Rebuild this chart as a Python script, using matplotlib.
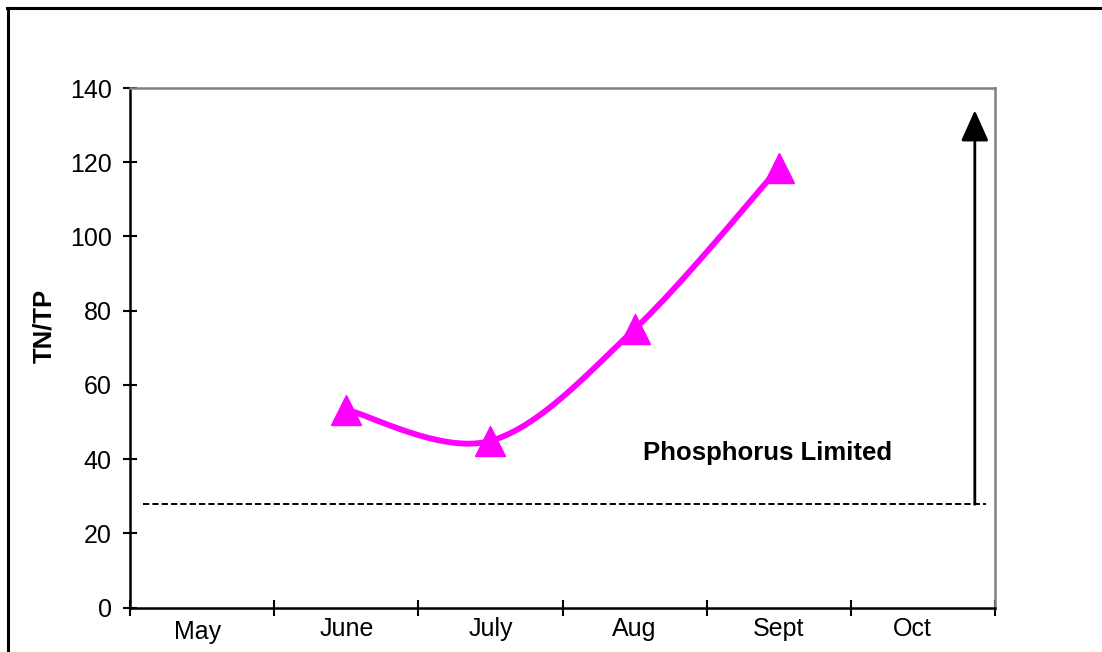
import matplotlib
matplotlib.use("Agg")
import matplotlib.pyplot as plt
import matplotlib.transforms as mtransforms
from matplotlib.lines import Line2D
import numpy as np

plt.rcParams["font.family"] = ["Liberation Sans", "DejaVu Sans"]

months = ["May", "June", "July", "Aug", "Sept", "Oct"]
sample_months = ["June", "July", "Aug", "Sept"]
tn_tp = [53.3, 44.9, 75.0, 118.4]
threshold = 27.8
arrow_top = 134
label_text = "Phosphorus Limited"

magenta = "#FF00FF"


def smooth(xs, ys, n=40):
    # Bezier smoothing similar to spreadsheet "smoothed line"
    pts = np.column_stack([xs, ys]).astype(float)
    out = []
    for i in range(len(pts) - 1):
        p0 = pts[max(i - 1, 0)]
        p1 = pts[i]
        p2 = pts[i + 1]
        p3 = pts[min(i + 2, len(pts) - 1)]
        c1 = p1 + (p2 - p0) / 6
        c2 = p2 - (p3 - p1) / 6
        t = np.linspace(0, 1, n)[:, None]
        seg = ((1 - t) ** 3 * p1 + 3 * (1 - t) ** 2 * t * c1
               + 3 * (1 - t) * t ** 2 * c2 + t ** 3 * p2)
        out.append(seg if i == 0 else seg[1:])
    out = np.vstack(out)
    return out[:, 0], out[:, 1]


fig = plt.figure(figsize=(11.02, 6.52), dpi=100)
ax = fig.add_axes([130 / 1102, (652 - 607.5) / 652, 865 / 1102, 519.5 / 652])

xpos = [months.index(m) + 0.5 for m in sample_months]
sx, sy = smooth(xpos, tn_tp)
ax.plot(sx, sy, color=magenta, lw=4.2, solid_capstyle="round", zorder=3)
ax.plot(xpos, tn_tp, ls="none", marker="^", ms=22, color=magenta, zorder=4)

ax.plot([0.09, 5.94], [threshold, threshold], color="black", lw=1.4,
        ls=(0, (3.2, 1.6)), zorder=2)
ax.annotate("", xy=(5.86, arrow_top), xytext=(5.86, threshold),
            arrowprops=dict(arrowstyle="-|>,head_length=1.9,head_width=0.85",
                            mutation_scale=10, lw=2, color="black",
                            shrinkA=0, shrinkB=0))
ax.text(4.42, 41.6, label_text, ha="center", va="center",
        fontsize=18.5, fontweight="bold")

ax.set_xlim(0, len(months))
ax.set_ylim(0, 140)
ax.set_yticks(np.arange(0, 141, 20))
ax.set_xticks(np.arange(0, len(months) + 1))
ax.set_xticklabels([])
ax.set_xticks(np.arange(len(months)) + 0.5, minor=True)
ax.set_xticklabels(months, minor=True)

ax.tick_params(axis="y", direction="inout", length=9.5, width=1.5,
               labelsize=18, pad=8.5)
ax.tick_params(axis="x", which="major", direction="inout", length=11, width=1.5)
ax.tick_params(axis="x", which="minor", length=0, labelsize=18, pad=7)

for side in ["left", "bottom"]:
    ax.spines[side].set_color("black")
    ax.spines[side].set_linewidth(1.8)
for side in ["top", "right"]:
    ax.spines[side].set_color("#808080")
    ax.spines[side].set_linewidth(1.8)

ax.set_ylabel("TN/TP", fontsize=18.5, fontweight="bold")
ax.yaxis.set_label_coords(56 / 1102, 0.5, transform=fig.transFigure)

# small per-label shifts (pixels) seen in the original layout
shifts = {"May": (-5, -3), "Oct": (-11, 0)}
for lab in ax.xaxis.get_minorticklabels():
    if lab.get_text() in shifts:
        dx, dy = shifts[lab.get_text()]
        off = mtransforms.ScaledTranslation(dx / 100, dy / 100, fig.dpi_scale_trans)
        lab.set_transform(lab.get_transform() + off)

# outer frame (left and top edges)
fig.add_artist(Line2D([7.5 / 1102, 7.5 / 1102], [0, 1 - 7.5 / 652],
                      transform=fig.transFigure, color="black", lw=2.2))
fig.add_artist(Line2D([6.5 / 1102, 1], [1 - 7.5 / 652, 1 - 7.5 / 652],
                      transform=fig.transFigure, color="black", lw=2.2))

fig.savefig("out.png", dpi=100)
